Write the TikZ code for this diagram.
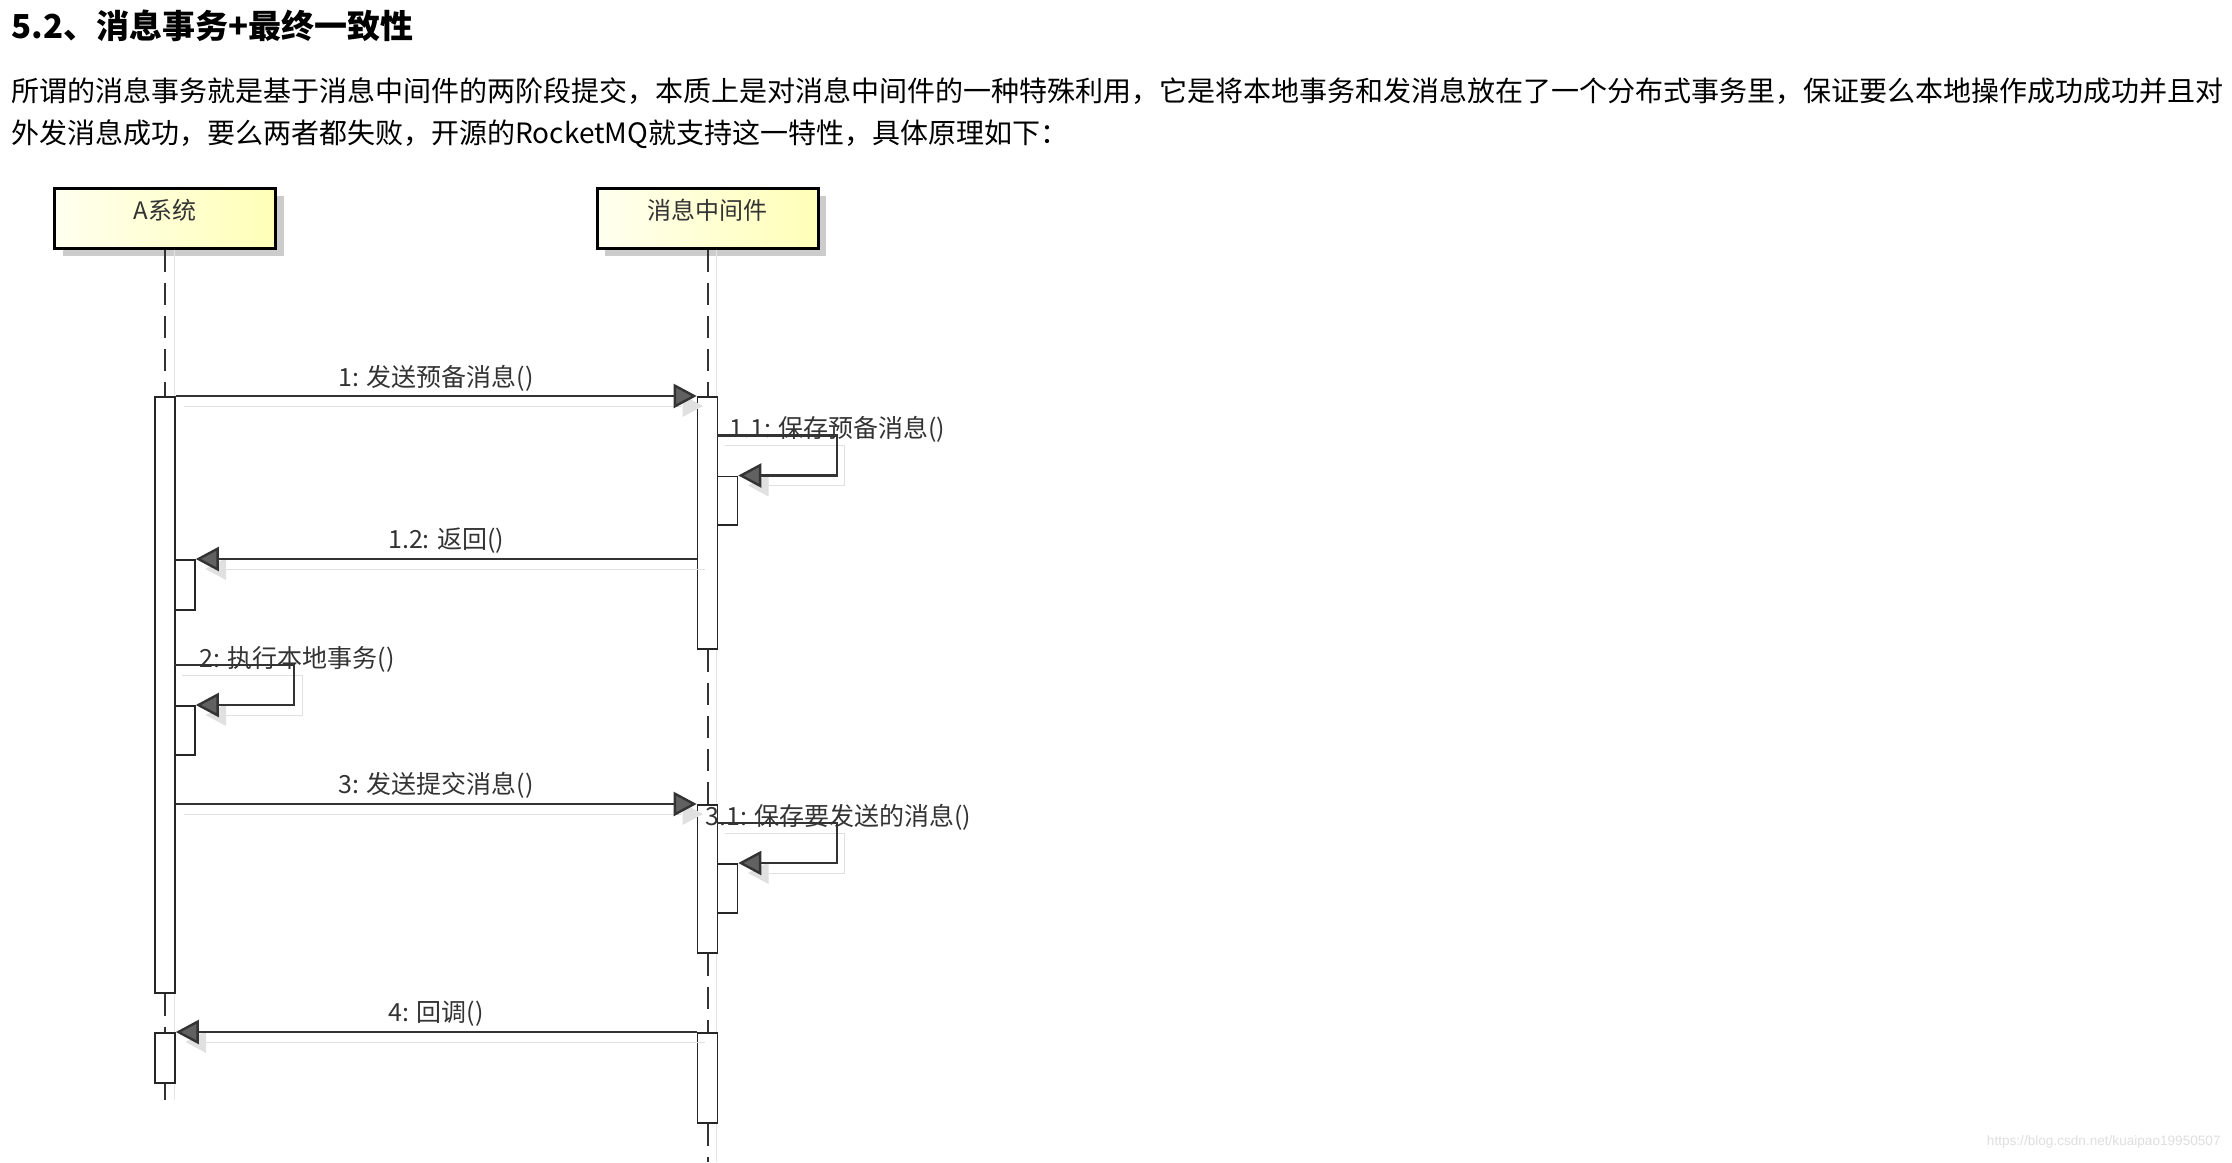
\documentclass[tikz,border=0pt]{standalone}
\usepackage{fontspec}
\setmainfont{Noto Sans CJK SC}
\newfontfamily\urlfont{Liberation Sans}
\usetikzlibrary{arrows.meta,shadows,positioning}

\begin{document}
\begin{tikzpicture}
    [x=0.5pt, y=-0.5pt,
    msg/.style={draw=black!80, line width=1.2pt, -{Triangle[length=11.5pt, width=12pt, fill=black!62]},
        preaction={draw=black!12, -{Triangle[length=11.5pt, width=12pt]}, transform canvas={xshift=4pt, yshift=-5pt}}},
    lifeline/.style={draw=black!80, line width=1pt, dash pattern=on 11pt off 5.5pt,
        preaction={draw=black!10, solid, transform canvas={xshift=4.5pt}}},
    act/.style={draw=black!85, fill=white, line width=0.8pt, minimum width=10pt, inner sep=0pt, anchor=north},
    participant/.style={draw=black, line width=1.5pt, minimum width=110.5pt, minimum height=30pt,
        left color=yellow!6, right color=yellow!28, text depth=8.5pt,
        drop shadow={shadow xshift=4pt, shadow yshift=-4pt, fill=black!20, opacity=1},
        font=\fontsize{12pt}{14pt}\selectfont, text=black!80},
    lbl/.style={font=\fontsize{12.5pt}{15pt}\selectfont, text=black!80, inner sep=0pt},
    para/.style={font=\fontsize{14pt}{17pt}\selectfont, anchor=west, inner sep=0pt}]
    \useasboundingbox (0,0) rectangle (2232,1162);

        %% text above the diagram
    \node[para, font=\fontsize{16.5pt}{19pt}\selectfont\bfseries] (title) at (11,26) {5.2、消息事务+最终一致性};
    \node[para] (desc1) at (11,91) {所谓的消息事务就是基于消息中间件的两阶段提交，本质上是对消息中间件的一种特殊利用，它是将本地事务和发消息放在了一个分布式事务里，保证要么本地操作成功成功并且对};
    \node[para] (desc2) at (11,134) {外发消息成功，要么两者都失败，开源的RocketMQ就支持这一特性，具体原理如下：};

        %% participants
    \node[participant] (pA) at (165,218) {A系统};
    \node[participant] (pB) at (707.5,218) {消息中间件};

        %% activations
    \node[act, minimum height=298pt] (actA) at (165,396) {};
    \node[act, minimum height=126pt] (actB) at (707.5,396) {};
    \node[act, minimum height=24.25pt] (nB1) at (727.5,475.5) {};
    \node[act, minimum height=25pt] (nA1) at (185,559) {};
    \node[act, minimum height=24.5pt] (nA2) at (185,705) {};
    \node[act, minimum height=74pt] (actB2) at (707.5,804) {};
    \node[act, minimum height=24.5pt] (nB2) at (727.5,863) {};
    \node[act, minimum height=25pt] (actA2) at (165,1032) {};
    \node[act, minimum height=45pt] (actB3) at (707.5,1032) {};
    \coordinate (endA) at (165,1100);
    \coordinate (endB) at (707.5,1162);

        %% lifelines
    \draw[lifeline] (pA.south) -- (actA.north);
    \draw[lifeline] (actA.south) -- (actA2.north);
    \draw[lifeline] (actA2.south) -- (endA);
    \draw[lifeline] (pB.south) -- (actB.north);
    \draw[lifeline] (actB.south) -- (actB2.north);
    \draw[lifeline] (actB2.south) -- (actB3.north);
    \draw[lifeline] (actB3.south) -- (endB);

        %% messages
    \draw[msg] (actA.north east) -- node[lbl, yshift=9pt] (l1) {1: 发送预备消息()} (actB.north west);
    \draw[msg] ([yshift=20pt]nB1.north west) node[lbl, anchor=west, xshift=5.75pt, yshift=3pt] (l11) {1.1: 保存预备消息()}
        -- ++(120,0) |- (nB1.north east);
    \draw[msg] (actB.west |- nA1.north) -- node[lbl, yshift=9pt] (l12) {1.2: 返回()} (nA1.north east);
    \draw[msg] ([yshift=20pt]nA2.north west) node[lbl, anchor=west, xshift=12pt, yshift=3pt] (l2) {2: 执行本地事务()}
        -- ++(120,0) |- (nA2.north east);
    \draw[msg] (actA.east |- actB2.north) -- node[lbl, yshift=9.5pt] (l3) {3: 发送提交消息()} (actB2.north west);
    \draw[msg] ([yshift=20pt]nB2.north west) node[lbl, anchor=west, xshift=-6.25pt, yshift=3pt] (l31) {3.1: 保存要发送的消息()}
        -- ++(120,0) |- (nB2.north east);
    \draw[msg] (actB3.north west) -- node[lbl, yshift=9pt] (l4) {4: 回调()} (actA2.north east);

    \node[anchor=east, inner sep=0pt, text=black!13, font=\urlfont\fontsize{6.8pt}{8pt}\selectfont] (wm) at (2221,1142) {https://blog.csdn.net/kuaipao19950507};
\end{tikzpicture}
\end{document}
